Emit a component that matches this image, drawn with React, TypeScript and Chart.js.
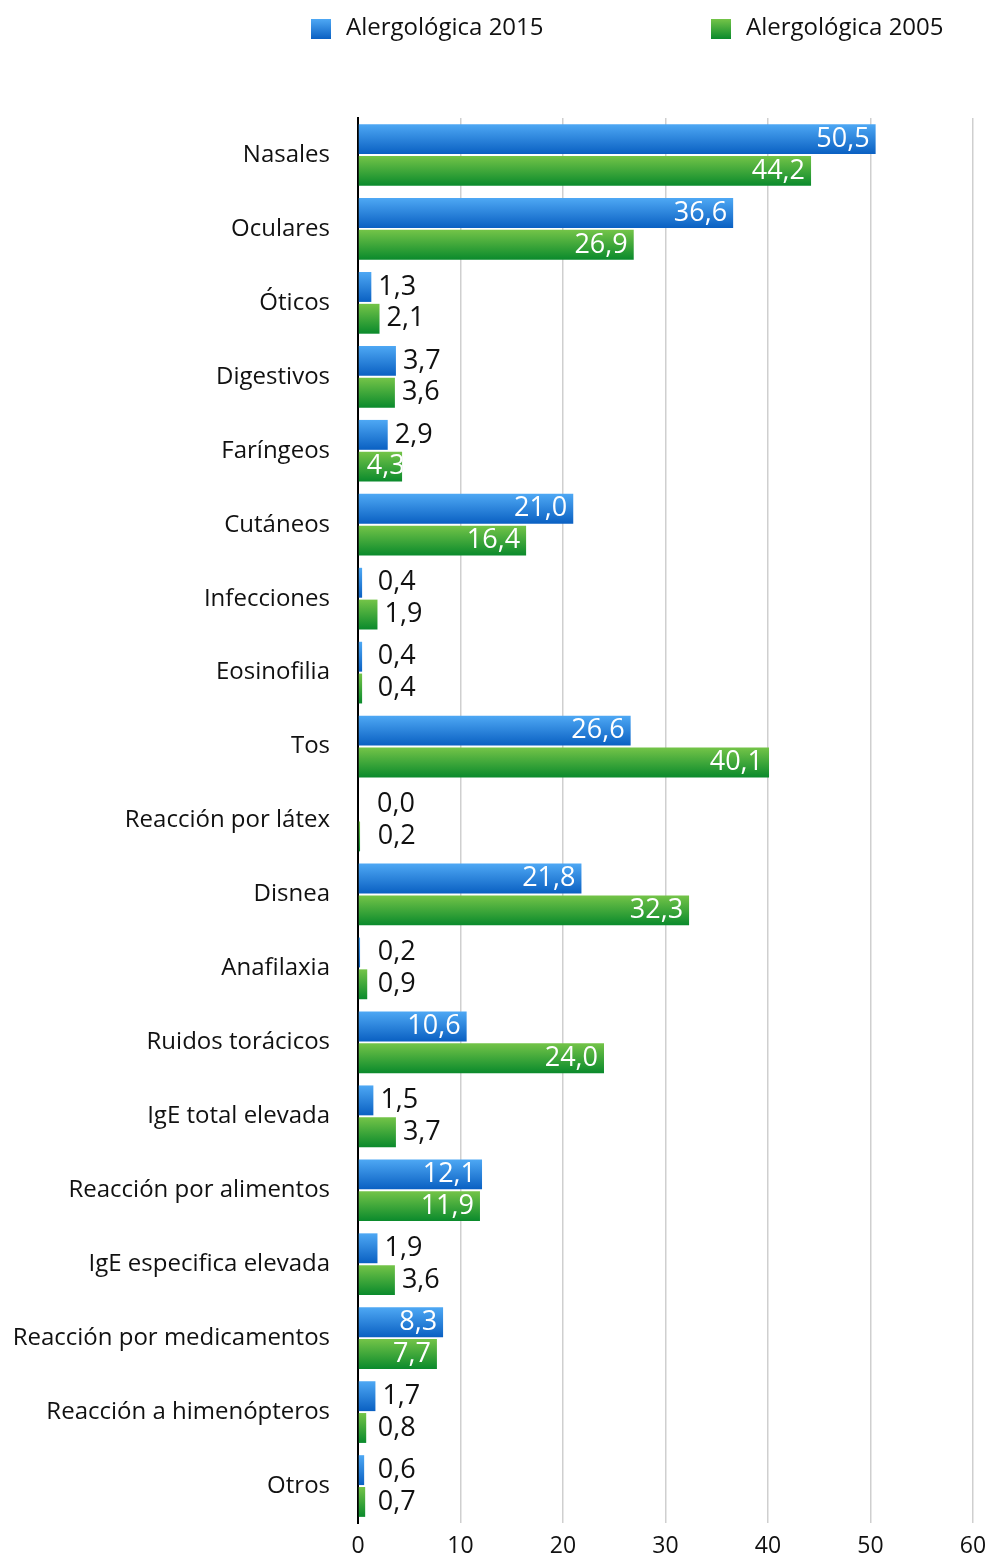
import React, { useEffect, useRef } from "react";
import { Chart, registerables } from "chart.js";

Chart.register(...registerables);

const categories = [
  "Nasales",
  "Oculares",
  "Óticos",
  "Digestivos",
  "Faríngeos",
  "Cutáneos",
  "Infecciones",
  "Eosinofilia",
  "Tos",
  "Reacción por látex",
  "Disnea",
  "Anafilaxia",
  "Ruidos torácicos",
  "IgE total elevada",
  "Reacción por alimentos",
  "IgE especifica elevada",
  "Reacción por medicamentos",
  "Reacción a himenópteros",
  "Otros",
];

const series2015 = [50.5, 36.6, 1.3, 3.7, 2.9, 21.0, 0.4, 0.4, 26.6, 0.0, 21.8, 0.2, 10.6, 1.5, 12.1, 1.9, 8.3, 1.7, 0.6];
const series2005 = [44.2, 26.9, 2.1, 3.6, 4.3, 16.4, 1.9, 0.4, 40.1, 0.2, 32.3, 0.9, 24.0, 3.7, 11.9, 3.6, 7.7, 0.8, 0.7];

const seriesNames = ["Alergológica 2015", "Alergológica 2005"];
const xTicks = [0, 10, 20, 30, 40, 50, 60];

const FONT = "'Open Sans', 'Noto Sans', sans-serif";
const gradStops = [
  ["#4ea8f4", "#0a60c2"],
  ["#74c448", "#0a8a2c"],
];

const fmt = (v: number) => v.toFixed(1).replace(".", ",");

const gradientPlugin = {
  id: "barGradients",
  beforeDatasetsDraw(chart: any) {
    const ctx = chart.ctx;
    chart.data.datasets.forEach((_ds: any, di: number) => {
      const meta = chart.getDatasetMeta(di);
      meta.data.forEach((el: any) => {
        const { y, height } = el.getProps(["y", "height"], true);
        const g = ctx.createLinearGradient(0, y - height / 2, 0, y + height / 2);
        g.addColorStop(0, gradStops[di][0]);
        g.addColorStop(1, gradStops[di][1]);
        el.options.backgroundColor = g;
      });
    });
  },
};

const labelPlugin = {
  id: "valueLabels",
  afterDatasetsDraw(chart: any) {
    const ctx = chart.ctx;
    ctx.save();
    ctx.font = `27px ${FONT}`;
    ctx.textBaseline = "middle";
    chart.data.datasets.forEach((ds: any, di: number) => {
      const meta = chart.getDatasetMeta(di);
      meta.data.forEach((el: any, i: number) => {
        const v = ds.data[i] as number;
        const { x, y, base, height } = el.getProps(["x", "y", "base", "height"], true);
        const txt = fmt(v);
        const w = ctx.measureText(txt).width;
        if (v >= 4) {
          ctx.save();
          ctx.beginPath();
          ctx.rect(base, y - height / 2, x - base, height);
          ctx.clip();
          ctx.fillStyle = "#ffffff";
          ctx.textAlign = "left";
          ctx.fillText(txt, Math.max(x - 6 - w, base + 8), y);
          ctx.restore();
        } else {
          ctx.fillStyle = "#111111";
          ctx.textAlign = "left";
          ctx.fillText(txt, Math.max(base + 19, x + 7), y);
        }
      });
    });
    ctx.restore();
  },
};

const legendPlugin = {
  id: "customLegend",
  afterDraw(chart: any) {
    const ctx = chart.ctx;
    const items = [
      { x: 311, name: seriesNames[0], c: gradStops[0] },
      { x: 711, name: seriesNames[1], c: gradStops[1] },
    ];
    ctx.save();
    items.forEach((it) => {
      const g = ctx.createLinearGradient(0, 19, 0, 39);
      g.addColorStop(0, it.c[0]);
      g.addColorStop(1, it.c[1]);
      ctx.fillStyle = g;
      ctx.fillRect(it.x, 19, 20, 20);
      ctx.fillStyle = "#111111";
      ctx.font = `24px ${FONT}`;
      ctx.textBaseline = "middle";
      ctx.textAlign = "left";
      ctx.fillText(it.name, it.x + 35, 28);
    });
    ctx.restore();
  },
};

export default function App() {
  const ref = useRef<HTMLCanvasElement | null>(null);

  useEffect(() => {
    document.body.style.margin = "0";
    if (!ref.current) return;
    const chart = new Chart(ref.current, {
      type: "bar",
      data: {
        labels: categories,
        datasets: [
          { label: seriesNames[0], data: series2015, backgroundColor: () => gradStops[0][1], borderWidth: 0 },
          { label: seriesNames[1], data: series2005, backgroundColor: () => gradStops[1][1], borderWidth: 0 },
        ],
      },
      options: {
        indexAxis: "y",
        animation: false,
        responsive: false,
        maintainAspectRatio: false,
        devicePixelRatio: 1,
        barPercentage: 0.94,
        categoryPercentage: 0.86,
        layout: { padding: { top: 118, right: 17, bottom: 0, left: 0 } },
        plugins: {
          legend: { display: false },
          tooltip: { enabled: false },
        },
        scales: {
          x: {
            min: 0,
            max: 60,
            afterBuildTicks: (s: any) => {
              s.ticks = xTicks.map((v) => ({ value: v }));
            },
            afterFit: (s: any) => {
              s.height = 36;
              s.paddingRight = 0;
              s.paddingLeft = 0;
            },
            grid: { color: "#cfcfcf", lineWidth: 1.5, drawTicks: false },
            border: { display: false },
            ticks: { color: "#111111", font: { family: FONT, size: 23 }, padding: 10 },
          },
          y: {
            afterFit: (s: any) => {
              s.width = 358;
              s.paddingTop = 0;
              s.paddingBottom = 0;
            },
            grid: { display: false, drawTicks: false },
            border: { display: true, color: "#000000", width: 2 },
            ticks: { color: "#111111", font: { family: FONT, size: 24 }, padding: 28 },
          },
        },
      },
      plugins: [gradientPlugin, labelPlugin, legendPlugin],
    } as any);
    return () => chart.destroy();
  }, []);

  return (
    <div style={{ width: 990, height: 1559 }}>
      <canvas ref={ref} width={990} height={1559} style={{ width: 990, height: 1559, display: "block" }} />
    </div>
  );
}
